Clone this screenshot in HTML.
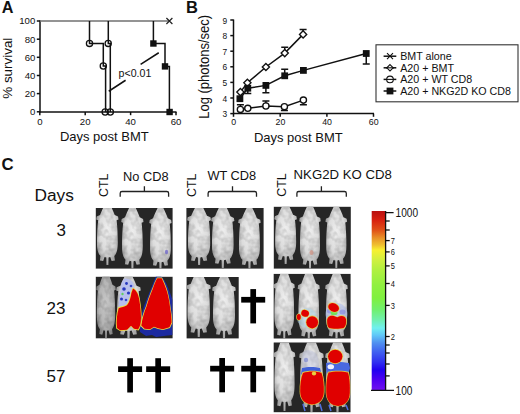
<!DOCTYPE html><html><head><meta charset="utf-8"><style>html,body{margin:0;padding:0;background:#fff;width:520px;height:414px;overflow:hidden}svg{display:block}text{font-family:"Liberation Sans",sans-serif;fill:#111}</style></head><body>
<svg width="520" height="414" viewBox="0 0 520 414">
<defs>
<radialGradient id="mg" cx="50%" cy="40%" r="65%"><stop offset="0" stop-color="#eeeeee"/><stop offset="0.55" stop-color="#dcdcdc"/><stop offset="1" stop-color="#a0a0a0"/></radialGradient>
<linearGradient id="cb" x1="0" y1="0" x2="0" y2="1"><stop offset="0" stop-color="#b81010"/><stop offset="0.05" stop-color="#d82010"/><stop offset="0.106" stop-color="#e05018"/><stop offset="0.15" stop-color="#e89028"/><stop offset="0.19" stop-color="#f0c030"/><stop offset="0.218" stop-color="#f8f030"/><stop offset="0.274" stop-color="#d0f040"/><stop offset="0.33" stop-color="#b0f040"/><stop offset="0.413" stop-color="#90f040"/><stop offset="0.486" stop-color="#80f040"/><stop offset="0.553" stop-color="#70f070"/><stop offset="0.609" stop-color="#70f0b0"/><stop offset="0.654" stop-color="#70f0f0"/><stop offset="0.693" stop-color="#60c8f8"/><stop offset="0.737" stop-color="#5090f0"/><stop offset="0.788" stop-color="#4060f0"/><stop offset="0.844" stop-color="#3030f0"/><stop offset="0.888" stop-color="#2000f0"/><stop offset="0.944" stop-color="#5000f0"/><stop offset="1" stop-color="#7010f0"/></linearGradient>
<radialGradient id="mgd" cx="50%" cy="45%" r="60%"><stop offset="0" stop-color="#c8c8c8"/><stop offset="0.6" stop-color="#b4b4b4"/><stop offset="1" stop-color="#808080"/></radialGradient>
<filter id="soft" x="-5%" y="-5%" width="110%" height="110%"><feGaussianBlur stdDeviation="0.5"/></filter>
<filter id="tex" x="0" y="0" width="100%" height="100%" filterUnits="userSpaceOnUse"><feTurbulence type="fractalNoise" baseFrequency="0.16" numOctaves="2" seed="7" result="n"/><feColorMatrix in="n" type="matrix" values="0 0 0 0 0  0 0 0 0 0  0 0 0 0 0  1.6 0 0 0 -0.62" result="d"/><feComposite in="d" in2="SourceAlpha" operator="in"/></filter>

</defs>
<text x="1.8" y="13.1" font-size="16.2" text-anchor="start" font-weight="bold" >A</text>
<g stroke="#111" stroke-width="1.5" fill="none">
<path d="M40,20.5 V112.5"/>
<path d="M36.8,111.8 H40"/>
<path d="M36.8,93.6 H40"/>
<path d="M36.8,75.5 H40"/>
<path d="M36.8,57.3 H40"/>
<path d="M36.8,39.2 H40"/>
<path d="M36.8,21.0 H40"/>
<path d="M39.3,112 H176.5"/>
<path d="M39.8,112 V115.2"/>
<path d="M85.2,112 V115.2"/>
<path d="M130.6,112 V115.2"/>
<path d="M176,112 V115.2"/>
</g>
<text x="35.3" y="115.2" font-size="9.6" text-anchor="end" font-weight="normal" >0</text>
<text x="35.3" y="97.04" font-size="9.6" text-anchor="end" font-weight="normal" >20</text>
<text x="35.3" y="78.88" font-size="9.6" text-anchor="end" font-weight="normal" >40</text>
<text x="35.3" y="60.71999999999999" font-size="9.6" text-anchor="end" font-weight="normal" >60</text>
<text x="35.3" y="42.559999999999995" font-size="9.6" text-anchor="end" font-weight="normal" >80</text>
<text x="35.3" y="24.4" font-size="9.6" text-anchor="end" font-weight="normal" >100</text>
<text x="39.8" y="124.5" font-size="9.6" text-anchor="middle" font-weight="normal" >0</text>
<text x="85.2" y="124.5" font-size="9.6" text-anchor="middle" font-weight="normal" >20</text>
<text x="130.6" y="124.5" font-size="9.6" text-anchor="middle" font-weight="normal" >40</text>
<text x="176" y="124.5" font-size="9.6" text-anchor="middle" font-weight="normal" >60</text>
<text x="59.9" y="140.6" font-size="13" text-anchor="start" font-weight="normal" >Days post BMT</text>
<text x="0" y="0" font-size="13.4" transform="translate(11.7,98.7) rotate(-90)">% survival</text>
<path d="M40,21 H169.4" stroke="#707070" stroke-width="1.7" fill="none"/>
<path d="M166.4,18 L172.4,24 M172.4,18 L166.4,24" stroke="#222" stroke-width="1.2"/>
<g stroke="#111" stroke-width="1.5" fill="none">
<path d="M89.5,21 V43.4 H103.3 V66 H105.6 V112"/>
<path d="M108.3,21 V43.4 H110.3 V112"/>
<path d="M153.4,21 V43.5 H165 V66.4 H169.4 V112"/>
<path d="M108.75,91.25 L125.6,80.25 M140.6,64.4 L158.75,52.75"/>
</g>
<g stroke="#111" stroke-width="1.3" fill="#fff">
<circle cx="89.5" cy="43.4" r="3.1" fill="none"/>
<circle cx="108.2" cy="43.4" r="3.1" fill="none"/>
<circle cx="103.3" cy="66" r="3.1" fill="none"/>
<circle cx="105.2" cy="112" r="3.1" fill="none"/>
<circle cx="110.3" cy="112" r="3.1" fill="none"/>
</g>
<rect x="150.20000000000002" y="40.3" width="6.4" height="6.4" fill="#111"/>
<rect x="161.8" y="63.2" width="6.4" height="6.4" fill="#111"/>
<rect x="166.4" y="108.8" width="6.4" height="6.4" fill="#111"/>
<text x="118.6" y="77.0" font-size="10.6" text-anchor="start" font-weight="normal" >p&lt;0.01</text>
<text x="185.9" y="13.2" font-size="16.5" text-anchor="start" font-weight="bold" >B</text>
<text x="0" y="0" font-size="13" transform="translate(209.2,118.8) rotate(-90) scale(1,1.06)">Log (photons/sec)</text>
<g stroke="#111" stroke-width="1.5" fill="none">
<path d="M233.5,19.5 V114"/>
<path d="M230.3,113.6 H233.5"/>
<path d="M230.3,98.0 H233.5"/>
<path d="M230.3,82.4 H233.5"/>
<path d="M230.3,66.8 H233.5"/>
<path d="M230.3,51.2 H233.5"/>
<path d="M230.3,35.6 H233.5"/>
<path d="M230.3,20.0 H233.5"/>
<path d="M233,113.6 H374"/>
<path d="M233.5,113.6 V116.8"/>
<path d="M280.2,113.6 V116.8"/>
<path d="M326.9,113.6 V116.8"/>
<path d="M373.5,113.6 V116.8"/>
</g>
<text x="227.2" y="117.19999999999999" font-size="8.4" text-anchor="end" font-weight="normal" >3</text>
<text x="227.2" y="101.6" font-size="8.4" text-anchor="end" font-weight="normal" >4</text>
<text x="227.2" y="85.99999999999999" font-size="8.4" text-anchor="end" font-weight="normal" >5</text>
<text x="227.2" y="70.39999999999999" font-size="8.4" text-anchor="end" font-weight="normal" >6</text>
<text x="227.2" y="54.8" font-size="8.4" text-anchor="end" font-weight="normal" >7</text>
<text x="227.2" y="39.199999999999996" font-size="8.4" text-anchor="end" font-weight="normal" >8</text>
<text x="227.2" y="23.6" font-size="8.4" text-anchor="end" font-weight="normal" >9</text>
<text x="233.7" y="124.8" font-size="8.8" text-anchor="middle" font-weight="normal" >0</text>
<text x="280.4" y="124.8" font-size="8.8" text-anchor="middle" font-weight="normal" >20</text>
<text x="327.09999999999997" y="124.8" font-size="8.8" text-anchor="middle" font-weight="normal" >40</text>
<text x="373.7" y="124.8" font-size="8.8" text-anchor="middle" font-weight="normal" >60</text>
<text x="253.9" y="142.3" font-size="13" text-anchor="start" font-weight="normal" >Days post BMT</text>
<g stroke="#111" stroke-width="1.5" fill="none">
<polyline points="240.4,92.1 247.4,82.8 265.9,67 284.75,53.1 303.1,34.4"/>
<polyline points="239.9,98.7 247.8,88.2 265.9,85.4 284.7,75.8 303.4,70.4 366.25,53.5"/>
<polyline points="240.4,109.4 247.8,108.3 265.9,106 284.4,106.7 303.4,100.1"/>
<path d="M284.75,53.1 V47.25 M281.25,47.25 H288.25"/>
<path d="M303.1,34.4 V29.4 M299.6,29.4 H306.6"/>
<path d="M247.8,88.2 V93.6 M244.3,93.6 H251.3"/>
<path d="M265.9,85.4 V92.8 M262.4,92.8 H269.4"/>
<path d="M284.7,75.8 V69.2 M281.2,69.2 H288.2"/>
<path d="M366.25,53.5 V64 M362.75,64 H369.75"/>
<path d="M240.4,109.4 V104.7 M236.9,104.7 H243.9"/>
<path d="M265.9,106 V100.9 M262.4,100.9 H269.4"/>
<path d="M284.4,106.7 V110.6 M280.9,110.6 H287.9"/>
<path d="M303.4,100.1 V104.7 M299.9,104.7 H306.9"/>
</g>
<path d="M240.4,88.5 L244.0,92.1 L240.4,95.69999999999999 L236.8,92.1 Z" fill="#fff" stroke="#111" stroke-width="1.35"/>
<path d="M247.4,79.2 L251.0,82.8 L247.4,86.39999999999999 L243.8,82.8 Z" fill="#fff" stroke="#111" stroke-width="1.35"/>
<path d="M265.9,63.4 L269.5,67 L265.9,70.6 L262.29999999999995,67 Z" fill="#fff" stroke="#111" stroke-width="1.35"/>
<path d="M284.75,49.5 L288.35,53.1 L284.75,56.7 L281.15,53.1 Z" fill="#fff" stroke="#111" stroke-width="1.35"/>
<path d="M303.1,30.799999999999997 L306.70000000000005,34.4 L303.1,38.0 L299.5,34.4 Z" fill="#fff" stroke="#111" stroke-width="1.35"/>
<circle cx="240.4" cy="109.4" r="3.1" fill="#fff" stroke="#111" stroke-width="1.35"/>
<circle cx="247.8" cy="108.3" r="3.1" fill="#fff" stroke="#111" stroke-width="1.35"/>
<circle cx="265.9" cy="106" r="3.1" fill="#fff" stroke="#111" stroke-width="1.35"/>
<circle cx="284.4" cy="106.7" r="3.1" fill="#fff" stroke="#111" stroke-width="1.35"/>
<circle cx="303.4" cy="100.1" r="3.1" fill="#fff" stroke="#111" stroke-width="1.35"/>
<rect x="236.5" y="95.3" width="6.8" height="6.8" fill="#111"/>
<rect x="244.4" y="84.8" width="6.8" height="6.8" fill="#111"/>
<rect x="262.5" y="82.0" width="6.8" height="6.8" fill="#111"/>
<rect x="281.3" y="72.39999999999999" width="6.8" height="6.8" fill="#111"/>
<rect x="300.0" y="67.0" width="6.8" height="6.8" fill="#111"/>
<rect x="362.85" y="50.1" width="6.8" height="6.8" fill="#111"/>
<rect x="376" y="44.8" width="142" height="57" fill="#fff" stroke="#333" stroke-width="1.1"/>
<g stroke="#111" stroke-width="1.5" fill="none">
<path d="M383.6,56.2 H396.3"/>
<path d="M383.6,67.8 H396.3"/>
<path d="M383.6,79.4 H396.3"/>
<path d="M383.6,91.0 H396.3"/>
</g>
<path d="M387,53.2 L393,59.2 M393,53.2 L387,59.2" stroke="#111" stroke-width="1.1"/>
<path d="M390,64.6 L393.2,67.8 L390,71.0 L386.8,67.8 Z" fill="#fff" stroke="#111" stroke-width="1.1"/><path d="M386,67.8 H394" stroke="#111" stroke-width="1.1"/>
<circle cx="390" cy="79.4" r="3.3" fill="#fff" stroke="#111" stroke-width="1.1"/><path d="M386,79.4 H394" stroke="#111" stroke-width="1.1"/>
<rect x="386.6" y="87.6" width="6.8" height="6.8" fill="#111"/>
<text x="400.2" y="60.0" font-size="10.7" text-anchor="start" font-weight="normal" >BMT alone</text>
<text x="400.2" y="71.6" font-size="10.7" text-anchor="start" font-weight="normal" >A20 + BMT</text>
<text x="400.2" y="83.2" font-size="10.7" text-anchor="start" font-weight="normal" >A20 + WT CD8</text>
<text x="400.2" y="94.8" font-size="10.7" text-anchor="start" font-weight="normal" >A20 + NKG2D KO CD8</text>
<text x="1.5" y="170.4" font-size="16.8" text-anchor="start" font-weight="bold" >C</text>
<text x="34.5" y="200.6" font-size="17.3" text-anchor="start" font-weight="normal" >Days</text>
<text x="66" y="236.4" font-size="17" text-anchor="end" font-weight="normal" >3</text>
<text x="65.4" y="314" font-size="17" text-anchor="end" font-weight="normal" >23</text>
<text x="65.4" y="382.2" font-size="17" text-anchor="end" font-weight="normal" >57</text>
<text x="0" y="0" font-size="12.4" transform="translate(108.4,196.9) rotate(-90)">CTL</text>
<text x="0" y="0" font-size="12.4" transform="translate(196.4,196.9) rotate(-90)">CTL</text>
<text x="0" y="0" font-size="12.4" transform="translate(286.3,196.7) rotate(-90)">CTL</text>
<text x="123.1" y="180.5" font-size="12.8" text-anchor="start" font-weight="normal" >No CD8</text>
<text x="207.4" y="180.3" font-size="12.8" text-anchor="start" font-weight="normal" >WT CD8</text>
<text x="293.6" y="179.1" font-size="13.2" text-anchor="start" font-weight="normal" >NKG2D KO CD8</text>
<g stroke="#222" stroke-width="1.3" fill="none">
<path d="M120.2,196.7 V193.3 Q120.2,191.5 122.0,191.5 H166.79999999999998 Q168.6,191.5 168.6,193.3 V196.7 M144.4,191.5 V186.3"/>
<path d="M208.1,196.7 V193.3 Q208.1,191.5 209.9,191.5 H254.7 Q256.5,191.5 256.5,193.3 V196.7 M232.5,191.5 V186.3"/>
<path d="M296.9,196.7 V193.3 Q296.9,191.5 298.7,191.5 H344.5 Q346.3,191.5 346.3,193.3 V196.7 M321.4,191.5 V186.3"/>
</g>
<g filter="url(#soft)">
<rect x="95.8" y="208" width="76.8" height="60.60000000000002" fill="#262626"/>
<clipPath id="c95208"><rect x="95.8" y="208" width="76.8" height="60.60000000000002"/></clipPath>
<g clip-path="url(#c95208)">
<path d="M9,0 L15,0 C16.8,3 18.3,6.5 19.8,10 L23.3,11.5 L23.8,14.5 L21.8,15.2 C22.6,22 23,29.5 23,37.5 C23,44 22.1,48.5 19.3,51 L20,55.5 L16.5,56 L15,52 L13.2,52.5 L13,60 L11,60 L10.8,52.5 L9,52 L7.5,56 L4,55.5 L4.7,51 C1.9,48.5 1,44 1,37.5 C1,29.5 1.4,22 2.2,15.2 L0.2,14.5 L0.7,11.5 L4.2,10 C5.7,6.5 7.2,3 9,0 Z" transform="translate(96.1,205) scale(0.942,1.000)" fill="url(#mg)"/>
<path d="M9,0 L15,0 C16.8,3 18.3,6.5 19.8,10 L23.3,11.5 L23.8,14.5 L21.8,15.2 C22.6,22 23,29.5 23,37.5 C23,44 22.1,48.5 19.3,51 L20,55.5 L16.5,56 L15,52 L13.2,52.5 L13,60 L11,60 L10.8,52.5 L9,52 L7.5,56 L4,55.5 L4.7,51 C1.9,48.5 1,44 1,37.5 C1,29.5 1.4,22 2.2,15.2 L0.2,14.5 L0.7,11.5 L4.2,10 C5.7,6.5 7.2,3 9,0 Z" transform="translate(96.1,205) scale(0.942,1.000)" fill="#000" filter="url(#tex)" opacity="0.28"/>
<path d="M9,0 L15,0 C16.8,3 18.3,6.5 19.8,10 L23.3,11.5 L23.8,14.5 L21.8,15.2 C22.6,22 23,29.5 23,37.5 C23,44 22.1,48.5 19.3,51 L20,55.5 L16.5,56 L15,52 L13.2,52.5 L13,60 L11,60 L10.8,52.5 L9,52 L7.5,56 L4,55.5 L4.7,51 C1.9,48.5 1,44 1,37.5 C1,29.5 1.4,22 2.2,15.2 L0.2,14.5 L0.7,11.5 L4.2,10 C5.7,6.5 7.2,3 9,0 Z" transform="translate(121.1,207) scale(0.942,1.033)" fill="url(#mg)"/>
<path d="M9,0 L15,0 C16.8,3 18.3,6.5 19.8,10 L23.3,11.5 L23.8,14.5 L21.8,15.2 C22.6,22 23,29.5 23,37.5 C23,44 22.1,48.5 19.3,51 L20,55.5 L16.5,56 L15,52 L13.2,52.5 L13,60 L11,60 L10.8,52.5 L9,52 L7.5,56 L4,55.5 L4.7,51 C1.9,48.5 1,44 1,37.5 C1,29.5 1.4,22 2.2,15.2 L0.2,14.5 L0.7,11.5 L4.2,10 C5.7,6.5 7.2,3 9,0 Z" transform="translate(121.1,207) scale(0.942,1.033)" fill="#000" filter="url(#tex)" opacity="0.28"/>
<path d="M9,0 L15,0 C16.8,3 18.3,6.5 19.8,10 L23.3,11.5 L23.8,14.5 L21.8,15.2 C22.6,22 23,29.5 23,37.5 C23,44 22.1,48.5 19.3,51 L20,55.5 L16.5,56 L15,52 L13.2,52.5 L13,60 L11,60 L10.8,52.5 L9,52 L7.5,56 L4,55.5 L4.7,51 C1.9,48.5 1,44 1,37.5 C1,29.5 1.4,22 2.2,15.2 L0.2,14.5 L0.7,11.5 L4.2,10 C5.7,6.5 7.2,3 9,0 Z" transform="translate(149.1,208) scale(0.946,1.033)" fill="url(#mg)"/>
<path d="M9,0 L15,0 C16.8,3 18.3,6.5 19.8,10 L23.3,11.5 L23.8,14.5 L21.8,15.2 C22.6,22 23,29.5 23,37.5 C23,44 22.1,48.5 19.3,51 L20,55.5 L16.5,56 L15,52 L13.2,52.5 L13,60 L11,60 L10.8,52.5 L9,52 L7.5,56 L4,55.5 L4.7,51 C1.9,48.5 1,44 1,37.5 C1,29.5 1.4,22 2.2,15.2 L0.2,14.5 L0.7,11.5 L4.2,10 C5.7,6.5 7.2,3 9,0 Z" transform="translate(149.1,208) scale(0.946,1.033)" fill="#000" filter="url(#tex)" opacity="0.28"/>
<ellipse cx="166.5" cy="252" rx="1.6" ry="2.2" fill="#7068c8" opacity="0.8"/>
</g></g>
<g filter="url(#soft)">
<rect x="186.4" y="208" width="77.20000000000002" height="60.60000000000002" fill="#262626"/>
<clipPath id="c186208"><rect x="186.4" y="208" width="77.20000000000002" height="60.60000000000002"/></clipPath>
<g clip-path="url(#c186208)">
<path d="M9,0 L15,0 C16.8,3 18.3,6.5 19.8,10 L23.3,11.5 L23.8,14.5 L21.8,15.2 C22.6,22 23,29.5 23,37.5 C23,44 22.1,48.5 19.3,51 L20,55.5 L16.5,56 L15,52 L13.2,52.5 L13,60 L11,60 L10.8,52.5 L9,52 L7.5,56 L4,55.5 L4.7,51 C1.9,48.5 1,44 1,37.5 C1,29.5 1.4,22 2.2,15.2 L0.2,14.5 L0.7,11.5 L4.2,10 C5.7,6.5 7.2,3 9,0 Z" transform="translate(187,206) scale(1.008,0.983)" fill="url(#mg)"/>
<path d="M9,0 L15,0 C16.8,3 18.3,6.5 19.8,10 L23.3,11.5 L23.8,14.5 L21.8,15.2 C22.6,22 23,29.5 23,37.5 C23,44 22.1,48.5 19.3,51 L20,55.5 L16.5,56 L15,52 L13.2,52.5 L13,60 L11,60 L10.8,52.5 L9,52 L7.5,56 L4,55.5 L4.7,51 C1.9,48.5 1,44 1,37.5 C1,29.5 1.4,22 2.2,15.2 L0.2,14.5 L0.7,11.5 L4.2,10 C5.7,6.5 7.2,3 9,0 Z" transform="translate(187,206) scale(1.008,0.983)" fill="#000" filter="url(#tex)" opacity="0.28"/>
<path d="M9,0 L15,0 C16.8,3 18.3,6.5 19.8,10 L23.3,11.5 L23.8,14.5 L21.8,15.2 C22.6,22 23,29.5 23,37.5 C23,44 22.1,48.5 19.3,51 L20,55.5 L16.5,56 L15,52 L13.2,52.5 L13,60 L11,60 L10.8,52.5 L9,52 L7.5,56 L4,55.5 L4.7,51 C1.9,48.5 1,44 1,37.5 C1,29.5 1.4,22 2.2,15.2 L0.2,14.5 L0.7,11.5 L4.2,10 C5.7,6.5 7.2,3 9,0 Z" transform="translate(211,206) scale(0.983,1.033)" fill="url(#mg)"/>
<path d="M9,0 L15,0 C16.8,3 18.3,6.5 19.8,10 L23.3,11.5 L23.8,14.5 L21.8,15.2 C22.6,22 23,29.5 23,37.5 C23,44 22.1,48.5 19.3,51 L20,55.5 L16.5,56 L15,52 L13.2,52.5 L13,60 L11,60 L10.8,52.5 L9,52 L7.5,56 L4,55.5 L4.7,51 C1.9,48.5 1,44 1,37.5 C1,29.5 1.4,22 2.2,15.2 L0.2,14.5 L0.7,11.5 L4.2,10 C5.7,6.5 7.2,3 9,0 Z" transform="translate(211,206) scale(0.983,1.033)" fill="#000" filter="url(#tex)" opacity="0.28"/>
<path d="M9,0 L15,0 C16.8,3 18.3,6.5 19.8,10 L23.3,11.5 L23.8,14.5 L21.8,15.2 C22.6,22 23,29.5 23,37.5 C23,44 22.1,48.5 19.3,51 L20,55.5 L16.5,56 L15,52 L13.2,52.5 L13,60 L11,60 L10.8,52.5 L9,52 L7.5,56 L4,55.5 L4.7,51 C1.9,48.5 1,44 1,37.5 C1,29.5 1.4,22 2.2,15.2 L0.2,14.5 L0.7,11.5 L4.2,10 C5.7,6.5 7.2,3 9,0 Z" transform="translate(238,208) scale(0.954,1.017)" fill="url(#mg)"/>
<path d="M9,0 L15,0 C16.8,3 18.3,6.5 19.8,10 L23.3,11.5 L23.8,14.5 L21.8,15.2 C22.6,22 23,29.5 23,37.5 C23,44 22.1,48.5 19.3,51 L20,55.5 L16.5,56 L15,52 L13.2,52.5 L13,60 L11,60 L10.8,52.5 L9,52 L7.5,56 L4,55.5 L4.7,51 C1.9,48.5 1,44 1,37.5 C1,29.5 1.4,22 2.2,15.2 L0.2,14.5 L0.7,11.5 L4.2,10 C5.7,6.5 7.2,3 9,0 Z" transform="translate(238,208) scale(0.954,1.017)" fill="#000" filter="url(#tex)" opacity="0.28"/>

</g></g>
<g filter="url(#soft)">
<rect x="273.8" y="206.8" width="77.0" height="61.80000000000001" fill="#262626"/>
<clipPath id="c273206"><rect x="273.8" y="206.8" width="77.0" height="61.80000000000001"/></clipPath>
<g clip-path="url(#c273206)">
<path d="M9,0 L15,0 C16.8,3 18.3,6.5 19.8,10 L23.3,11.5 L23.8,14.5 L21.8,15.2 C22.6,22 23,29.5 23,37.5 C23,44 22.1,48.5 19.3,51 L20,55.5 L16.5,56 L15,52 L13.2,52.5 L13,60 L11,60 L10.8,52.5 L9,52 L7.5,56 L4,55.5 L4.7,51 C1.9,48.5 1,44 1,37.5 C1,29.5 1.4,22 2.2,15.2 L0.2,14.5 L0.7,11.5 L4.2,10 C5.7,6.5 7.2,3 9,0 Z" transform="translate(274.2,205) scale(0.954,0.983)" fill="url(#mg)"/>
<path d="M9,0 L15,0 C16.8,3 18.3,6.5 19.8,10 L23.3,11.5 L23.8,14.5 L21.8,15.2 C22.6,22 23,29.5 23,37.5 C23,44 22.1,48.5 19.3,51 L20,55.5 L16.5,56 L15,52 L13.2,52.5 L13,60 L11,60 L10.8,52.5 L9,52 L7.5,56 L4,55.5 L4.7,51 C1.9,48.5 1,44 1,37.5 C1,29.5 1.4,22 2.2,15.2 L0.2,14.5 L0.7,11.5 L4.2,10 C5.7,6.5 7.2,3 9,0 Z" transform="translate(274.2,205) scale(0.954,0.983)" fill="#000" filter="url(#tex)" opacity="0.28"/>
<path d="M9,0 L15,0 C16.8,3 18.3,6.5 19.8,10 L23.3,11.5 L23.8,14.5 L21.8,15.2 C22.6,22 23,29.5 23,37.5 C23,44 22.1,48.5 19.3,51 L20,55.5 L16.5,56 L15,52 L13.2,52.5 L13,60 L11,60 L10.8,52.5 L9,52 L7.5,56 L4,55.5 L4.7,51 C1.9,48.5 1,44 1,37.5 C1,29.5 1.4,22 2.2,15.2 L0.2,14.5 L0.7,11.5 L4.2,10 C5.7,6.5 7.2,3 9,0 Z" transform="translate(299.1,206) scale(0.908,1.050)" fill="url(#mg)"/>
<path d="M9,0 L15,0 C16.8,3 18.3,6.5 19.8,10 L23.3,11.5 L23.8,14.5 L21.8,15.2 C22.6,22 23,29.5 23,37.5 C23,44 22.1,48.5 19.3,51 L20,55.5 L16.5,56 L15,52 L13.2,52.5 L13,60 L11,60 L10.8,52.5 L9,52 L7.5,56 L4,55.5 L4.7,51 C1.9,48.5 1,44 1,37.5 C1,29.5 1.4,22 2.2,15.2 L0.2,14.5 L0.7,11.5 L4.2,10 C5.7,6.5 7.2,3 9,0 Z" transform="translate(299.1,206) scale(0.908,1.050)" fill="#000" filter="url(#tex)" opacity="0.28"/>
<path d="M9,0 L15,0 C16.8,3 18.3,6.5 19.8,10 L23.3,11.5 L23.8,14.5 L21.8,15.2 C22.6,22 23,29.5 23,37.5 C23,44 22.1,48.5 19.3,51 L20,55.5 L16.5,56 L15,52 L13.2,52.5 L13,60 L11,60 L10.8,52.5 L9,52 L7.5,56 L4,55.5 L4.7,51 C1.9,48.5 1,44 1,37.5 C1,29.5 1.4,22 2.2,15.2 L0.2,14.5 L0.7,11.5 L4.2,10 C5.7,6.5 7.2,3 9,0 Z" transform="translate(325.3,207) scale(0.917,1.017)" fill="url(#mg)"/>
<path d="M9,0 L15,0 C16.8,3 18.3,6.5 19.8,10 L23.3,11.5 L23.8,14.5 L21.8,15.2 C22.6,22 23,29.5 23,37.5 C23,44 22.1,48.5 19.3,51 L20,55.5 L16.5,56 L15,52 L13.2,52.5 L13,60 L11,60 L10.8,52.5 L9,52 L7.5,56 L4,55.5 L4.7,51 C1.9,48.5 1,44 1,37.5 C1,29.5 1.4,22 2.2,15.2 L0.2,14.5 L0.7,11.5 L4.2,10 C5.7,6.5 7.2,3 9,0 Z" transform="translate(325.3,207) scale(0.917,1.017)" fill="#000" filter="url(#tex)" opacity="0.28"/>
<ellipse cx="311.5" cy="252.5" rx="2" ry="2.5" fill="#d09080" opacity="0.7"/>
</g></g>
<g filter="url(#soft)">
<rect x="95.8" y="276.8" width="76.8" height="61.5" fill="#262626"/>
<clipPath id="c95276"><rect x="95.8" y="276.8" width="76.8" height="61.5"/></clipPath>
<g clip-path="url(#c95276)">
<path d="M9,0 L15,0 C16.8,3 18.3,6.5 19.8,10 L23.3,11.5 L23.8,14.5 L21.8,15.2 C22.6,22 23,29.5 23,37.5 C23,44 22.1,48.5 19.3,51 L20,55.5 L16.5,56 L15,52 L13.2,52.5 L13,60 L11,60 L10.8,52.5 L9,52 L7.5,56 L4,55.5 L4.7,51 C1.9,48.5 1,44 1,37.5 C1,29.5 1.4,22 2.2,15.2 L0.2,14.5 L0.7,11.5 L4.2,10 C5.7,6.5 7.2,3 9,0 Z" transform="translate(96,274) scale(0.833,1.083)" fill="url(#mgd)"/>
<path d="M9,0 L15,0 C16.8,3 18.3,6.5 19.8,10 L23.3,11.5 L23.8,14.5 L21.8,15.2 C22.6,22 23,29.5 23,37.5 C23,44 22.1,48.5 19.3,51 L20,55.5 L16.5,56 L15,52 L13.2,52.5 L13,60 L11,60 L10.8,52.5 L9,52 L7.5,56 L4,55.5 L4.7,51 C1.9,48.5 1,44 1,37.5 C1,29.5 1.4,22 2.2,15.2 L0.2,14.5 L0.7,11.5 L4.2,10 C5.7,6.5 7.2,3 9,0 Z" transform="translate(96,274) scale(0.833,1.083)" fill="#000" filter="url(#tex)" opacity="0.28"/>
<path d="M9,0 L15,0 C16.8,3 18.3,6.5 19.8,10 L23.3,11.5 L23.8,14.5 L21.8,15.2 C22.6,22 23,29.5 23,37.5 C23,44 22.1,48.5 19.3,51 L20,55.5 L16.5,56 L15,52 L13.2,52.5 L13,60 L11,60 L10.8,52.5 L9,52 L7.5,56 L4,55.5 L4.7,51 C1.9,48.5 1,44 1,37.5 C1,29.5 1.4,22 2.2,15.2 L0.2,14.5 L0.7,11.5 L4.2,10 C5.7,6.5 7.2,3 9,0 Z" transform="translate(116,275) scale(1.042,1.067)" fill="url(#mg)"/>
<path d="M9,0 L15,0 C16.8,3 18.3,6.5 19.8,10 L23.3,11.5 L23.8,14.5 L21.8,15.2 C22.6,22 23,29.5 23,37.5 C23,44 22.1,48.5 19.3,51 L20,55.5 L16.5,56 L15,52 L13.2,52.5 L13,60 L11,60 L10.8,52.5 L9,52 L7.5,56 L4,55.5 L4.7,51 C1.9,48.5 1,44 1,37.5 C1,29.5 1.4,22 2.2,15.2 L0.2,14.5 L0.7,11.5 L4.2,10 C5.7,6.5 7.2,3 9,0 Z" transform="translate(116,275) scale(1.042,1.067)" fill="#000" filter="url(#tex)" opacity="0.28"/>

<path d="M156,276 C154,281 152,286 150,291 C148,296 146,301 144,306 C142,313 140,319 139,324 L140,332 L146,336 L152,335 L156,337 L164,336 L172.6,335 L172.6,300 C171,295 169,290 167,285 C165,281 163,278 161,276 Z" fill="#1a2aa0"/>
<path d="M157,277.5 L162,277.5 C164,281 166,286 167.5,291 C169,297 170,302 170.5,307 C171.5,313 172.3,318 172.3,323 L170,328 L163,330 L158,329 L154,327.5 L150,330 L144,329.5 L140.5,326 C141,320 143,313 146,306 C148,299 150,294 152,289 C154,284 155.5,280 157,277.5 Z" fill="#f0e040"/>
<path d="M157.3,278.3 L161.7,278.3 C163.5,282 165.5,287 167,291.5 C168.5,297 169.5,302 170,307 C171,313 171.6,318 171.6,322.5 L169.5,327.3 L163,329.2 L158,328.3 L154,326.8 L150,329.3 L144.5,328.8 L141.3,325.6 C142,320 143.8,313 146.6,306.2 C148.6,299.2 150.6,294.2 152.6,289.2 C154.4,284.2 156,280.3 157.3,278.3 Z" fill="#e00000"/>
<path d="M125,278.5 C129,278 133,281 134,285 C134,290 132,296 130,301 C128,305 125,307 121,308 L118.5,307 C119,300 120,292 121,285 C122,281 123.5,279 125,278.5 Z" fill="#b8c0ec"/>
<circle cx="124" cy="289" r="1.8" fill="#2838c0"/><circle cx="128.5" cy="293" r="1.6" fill="#2838c0"/><circle cx="126.5" cy="283.5" r="1.4" fill="#2838c0"/><circle cx="121.5" cy="299" r="1.5" fill="#2838c0"/><circle cx="126" cy="300" r="1.3" fill="#3848c8"/><circle cx="131" cy="286" r="1.3" fill="#3848c8"/><circle cx="122.5" cy="294" r="1.2" fill="#60d060"/>
<path d="M132.6,287.5 C136,289 139,293 140,300 C141,306 141.7,312 141.7,318 C141.7,324 140.5,328 138.5,330.5 L134,329.5 L131,326.5 L127,330.5 L120,331 L116.2,328.5 C115.4,322 116,314 118,307.5 C121,305.8 124,306.5 126.5,304.5 C129,301.5 130,297 130.8,292.5 Z" fill="#f0e040"/>
<path d="M133,288.5 C136,290 138.5,294 139.3,300 C140.3,306 141,312 141,318 C141,323.5 139.9,327.3 138,329.6 L134,328.7 L131,325.7 L127,329.7 L120,330.2 L117,328 C116.2,322 116.8,314 118.7,308.2 C121.5,306.6 124.4,307.2 127,305.2 C129.6,302.2 130.6,297.6 131.4,293 Z" fill="#e00000"/>

</g></g>
<g filter="url(#soft)">
<rect x="186.6" y="277" width="52.099999999999994" height="61.39999999999998" fill="#262626"/>
<clipPath id="c186277"><rect x="186.6" y="277" width="52.099999999999994" height="61.39999999999998"/></clipPath>
<g clip-path="url(#c186277)">
<path d="M9,0 L15,0 C16.8,3 18.3,6.5 19.8,10 L23.3,11.5 L23.8,14.5 L21.8,15.2 C22.6,22 23,29.5 23,37.5 C23,44 22.1,48.5 19.3,51 L20,55.5 L16.5,56 L15,52 L13.2,52.5 L13,60 L11,60 L10.8,52.5 L9,52 L7.5,56 L4,55.5 L4.7,51 C1.9,48.5 1,44 1,37.5 C1,29.5 1.4,22 2.2,15.2 L0.2,14.5 L0.7,11.5 L4.2,10 C5.7,6.5 7.2,3 9,0 Z" transform="translate(186.5,273) scale(1.021,1.067)" fill="url(#mg)"/>
<path d="M9,0 L15,0 C16.8,3 18.3,6.5 19.8,10 L23.3,11.5 L23.8,14.5 L21.8,15.2 C22.6,22 23,29.5 23,37.5 C23,44 22.1,48.5 19.3,51 L20,55.5 L16.5,56 L15,52 L13.2,52.5 L13,60 L11,60 L10.8,52.5 L9,52 L7.5,56 L4,55.5 L4.7,51 C1.9,48.5 1,44 1,37.5 C1,29.5 1.4,22 2.2,15.2 L0.2,14.5 L0.7,11.5 L4.2,10 C5.7,6.5 7.2,3 9,0 Z" transform="translate(186.5,273) scale(1.021,1.067)" fill="#000" filter="url(#tex)" opacity="0.28"/>
<path d="M9,0 L15,0 C16.8,3 18.3,6.5 19.8,10 L23.3,11.5 L23.8,14.5 L21.8,15.2 C22.6,22 23,29.5 23,37.5 C23,44 22.1,48.5 19.3,51 L20,55.5 L16.5,56 L15,52 L13.2,52.5 L13,60 L11,60 L10.8,52.5 L9,52 L7.5,56 L4,55.5 L4.7,51 C1.9,48.5 1,44 1,37.5 C1,29.5 1.4,22 2.2,15.2 L0.2,14.5 L0.7,11.5 L4.2,10 C5.7,6.5 7.2,3 9,0 Z" transform="translate(212,275) scale(1.000,1.067)" fill="url(#mg)"/>
<path d="M9,0 L15,0 C16.8,3 18.3,6.5 19.8,10 L23.3,11.5 L23.8,14.5 L21.8,15.2 C22.6,22 23,29.5 23,37.5 C23,44 22.1,48.5 19.3,51 L20,55.5 L16.5,56 L15,52 L13.2,52.5 L13,60 L11,60 L10.8,52.5 L9,52 L7.5,56 L4,55.5 L4.7,51 C1.9,48.5 1,44 1,37.5 C1,29.5 1.4,22 2.2,15.2 L0.2,14.5 L0.7,11.5 L4.2,10 C5.7,6.5 7.2,3 9,0 Z" transform="translate(212,275) scale(1.000,1.067)" fill="#000" filter="url(#tex)" opacity="0.28"/>

</g></g>
<g filter="url(#soft)">
<rect x="273.7" y="273.9" width="76.90000000000003" height="64.60000000000002" fill="#262626"/>
<clipPath id="c273273"><rect x="273.7" y="273.9" width="76.90000000000003" height="64.60000000000002"/></clipPath>
<g clip-path="url(#c273273)">
<path d="M9,0 L15,0 C16.8,3 18.3,6.5 19.8,10 L23.3,11.5 L23.8,14.5 L21.8,15.2 C22.6,22 23,29.5 23,37.5 C23,44 22.1,48.5 19.3,51 L20,55.5 L16.5,56 L15,52 L13.2,52.5 L13,60 L11,60 L10.8,52.5 L9,52 L7.5,56 L4,55.5 L4.7,51 C1.9,48.5 1,44 1,37.5 C1,29.5 1.4,22 2.2,15.2 L0.2,14.5 L0.7,11.5 L4.2,10 C5.7,6.5 7.2,3 9,0 Z" transform="translate(273.5,271) scale(0.896,1.150)" fill="url(#mg)"/>
<path d="M9,0 L15,0 C16.8,3 18.3,6.5 19.8,10 L23.3,11.5 L23.8,14.5 L21.8,15.2 C22.6,22 23,29.5 23,37.5 C23,44 22.1,48.5 19.3,51 L20,55.5 L16.5,56 L15,52 L13.2,52.5 L13,60 L11,60 L10.8,52.5 L9,52 L7.5,56 L4,55.5 L4.7,51 C1.9,48.5 1,44 1,37.5 C1,29.5 1.4,22 2.2,15.2 L0.2,14.5 L0.7,11.5 L4.2,10 C5.7,6.5 7.2,3 9,0 Z" transform="translate(273.5,271) scale(0.896,1.150)" fill="#000" filter="url(#tex)" opacity="0.28"/>
<path d="M9,0 L15,0 C16.8,3 18.3,6.5 19.8,10 L23.3,11.5 L23.8,14.5 L21.8,15.2 C22.6,22 23,29.5 23,37.5 C23,44 22.1,48.5 19.3,51 L20,55.5 L16.5,56 L15,52 L13.2,52.5 L13,60 L11,60 L10.8,52.5 L9,52 L7.5,56 L4,55.5 L4.7,51 C1.9,48.5 1,44 1,37.5 C1,29.5 1.4,22 2.2,15.2 L0.2,14.5 L0.7,11.5 L4.2,10 C5.7,6.5 7.2,3 9,0 Z" transform="translate(297.5,272) scale(0.938,1.150)" fill="url(#mg)"/>
<path d="M9,0 L15,0 C16.8,3 18.3,6.5 19.8,10 L23.3,11.5 L23.8,14.5 L21.8,15.2 C22.6,22 23,29.5 23,37.5 C23,44 22.1,48.5 19.3,51 L20,55.5 L16.5,56 L15,52 L13.2,52.5 L13,60 L11,60 L10.8,52.5 L9,52 L7.5,56 L4,55.5 L4.7,51 C1.9,48.5 1,44 1,37.5 C1,29.5 1.4,22 2.2,15.2 L0.2,14.5 L0.7,11.5 L4.2,10 C5.7,6.5 7.2,3 9,0 Z" transform="translate(297.5,272) scale(0.938,1.150)" fill="#000" filter="url(#tex)" opacity="0.28"/>
<path d="M9,0 L15,0 C16.8,3 18.3,6.5 19.8,10 L23.3,11.5 L23.8,14.5 L21.8,15.2 C22.6,22 23,29.5 23,37.5 C23,44 22.1,48.5 19.3,51 L20,55.5 L16.5,56 L15,52 L13.2,52.5 L13,60 L11,60 L10.8,52.5 L9,52 L7.5,56 L4,55.5 L4.7,51 C1.9,48.5 1,44 1,37.5 C1,29.5 1.4,22 2.2,15.2 L0.2,14.5 L0.7,11.5 L4.2,10 C5.7,6.5 7.2,3 9,0 Z" transform="translate(325,272) scale(0.958,1.150)" fill="url(#mg)"/>
<path d="M9,0 L15,0 C16.8,3 18.3,6.5 19.8,10 L23.3,11.5 L23.8,14.5 L21.8,15.2 C22.6,22 23,29.5 23,37.5 C23,44 22.1,48.5 19.3,51 L20,55.5 L16.5,56 L15,52 L13.2,52.5 L13,60 L11,60 L10.8,52.5 L9,52 L7.5,56 L4,55.5 L4.7,51 C1.9,48.5 1,44 1,37.5 C1,29.5 1.4,22 2.2,15.2 L0.2,14.5 L0.7,11.5 L4.2,10 C5.7,6.5 7.2,3 9,0 Z" transform="translate(325,272) scale(0.958,1.150)" fill="#000" filter="url(#tex)" opacity="0.28"/>

<ellipse cx="307" cy="318" rx="10" ry="10" fill="#a8d8f0" opacity="0.45"/>
<ellipse cx="336.5" cy="314" rx="11" ry="11" fill="#a8b8f0" opacity="0.5"/>
<ellipse cx="329.5" cy="311" rx="2.5" ry="2.5" fill="#8080e0" opacity="0.6"/>
<ellipse cx="342.5" cy="312" rx="3" ry="2.5" fill="#8080e0" opacity="0.6"/>
<ellipse cx="298.8" cy="317" rx="2.6" ry="3.6" fill="#e8d040"/>
<ellipse cx="298.8" cy="317" rx="2" ry="3" fill="#e00000"/>
<ellipse cx="305.1" cy="313.3" rx="4.5" ry="3.9" fill="#e8d040" transform="rotate(20 305.1 313.3)"/>
<ellipse cx="305.1" cy="313.3" rx="3.9" ry="3.3" fill="#e00000" transform="rotate(20 305.1 313.3)"/>
<ellipse cx="312.2" cy="322.3" rx="6.5" ry="6.7" fill="#e8d040"/>
<ellipse cx="312.2" cy="322.3" rx="5.9" ry="6.1" fill="#e00000"/>
<ellipse cx="334" cy="313" rx="3.5" ry="2.2" fill="#70e060"/>
<ellipse cx="333.6" cy="307.5" rx="6.2" ry="4.8" fill="#e8d040" transform="rotate(25 333.6 307.5)"/>
<ellipse cx="333.6" cy="307.5" rx="5.6" ry="4.2" fill="#e00000" transform="rotate(25 333.6 307.5)"/>
<path d="M326.5,321 C326.5,316.5 330,314.5 334,315.5 C336,316.5 337,317 338,316.5 C341,314.5 345.8,315 346.6,319 C347.2,323 346.5,327 344,328.6 C340,329.6 332,329.6 329,328.6 C327,327.5 326.5,324 326.5,321 Z" fill="#e8d040"/>
<path d="M327.1,321 C327.1,317 330.3,315.2 334,316.1 C336,317.1 337,317.6 338,317.1 C341,315.2 345.2,315.7 346,319.2 C346.5,323 345.9,326.5 343.6,328 C339.8,329 332.2,329 329.3,328 C327.5,327 327.1,324 327.1,321 Z" fill="#e00000"/>

</g></g>
<g filter="url(#soft)">
<rect x="273.7" y="342.5" width="76.80000000000001" height="69.69999999999999" fill="#262626"/>
<clipPath id="c273342"><rect x="273.7" y="342.5" width="76.80000000000001" height="69.69999999999999"/></clipPath>
<g clip-path="url(#c273342)">
<path d="M9,0 L15,0 C16.8,3 18.3,6.5 19.8,10 L23.3,11.5 L23.8,14.5 L21.8,15.2 C22.6,22 23,29.5 23,37.5 C23,44 22.1,48.5 19.3,51 L20,55.5 L16.5,56 L15,52 L13.2,52.5 L13,60 L11,60 L10.8,52.5 L9,52 L7.5,56 L4,55.5 L4.7,51 C1.9,48.5 1,44 1,37.5 C1,29.5 1.4,22 2.2,15.2 L0.2,14.5 L0.7,11.5 L4.2,10 C5.7,6.5 7.2,3 9,0 Z" transform="translate(273.5,339) scale(0.917,1.200)" fill="url(#mg)"/>
<path d="M9,0 L15,0 C16.8,3 18.3,6.5 19.8,10 L23.3,11.5 L23.8,14.5 L21.8,15.2 C22.6,22 23,29.5 23,37.5 C23,44 22.1,48.5 19.3,51 L20,55.5 L16.5,56 L15,52 L13.2,52.5 L13,60 L11,60 L10.8,52.5 L9,52 L7.5,56 L4,55.5 L4.7,51 C1.9,48.5 1,44 1,37.5 C1,29.5 1.4,22 2.2,15.2 L0.2,14.5 L0.7,11.5 L4.2,10 C5.7,6.5 7.2,3 9,0 Z" transform="translate(273.5,339) scale(0.917,1.200)" fill="#000" filter="url(#tex)" opacity="0.28"/>
<path d="M9,0 L15,0 C16.8,3 18.3,6.5 19.8,10 L23.3,11.5 L23.8,14.5 L21.8,15.2 C22.6,22 23,29.5 23,37.5 C23,44 22.1,48.5 19.3,51 L20,55.5 L16.5,56 L15,52 L13.2,52.5 L13,60 L11,60 L10.8,52.5 L9,52 L7.5,56 L4,55.5 L4.7,51 C1.9,48.5 1,44 1,37.5 C1,29.5 1.4,22 2.2,15.2 L0.2,14.5 L0.7,11.5 L4.2,10 C5.7,6.5 7.2,3 9,0 Z" transform="translate(299,340) scale(1.042,1.200)" fill="url(#mg)"/>
<path d="M9,0 L15,0 C16.8,3 18.3,6.5 19.8,10 L23.3,11.5 L23.8,14.5 L21.8,15.2 C22.6,22 23,29.5 23,37.5 C23,44 22.1,48.5 19.3,51 L20,55.5 L16.5,56 L15,52 L13.2,52.5 L13,60 L11,60 L10.8,52.5 L9,52 L7.5,56 L4,55.5 L4.7,51 C1.9,48.5 1,44 1,37.5 C1,29.5 1.4,22 2.2,15.2 L0.2,14.5 L0.7,11.5 L4.2,10 C5.7,6.5 7.2,3 9,0 Z" transform="translate(299,340) scale(1.042,1.200)" fill="#000" filter="url(#tex)" opacity="0.28"/>
<path d="M9,0 L15,0 C16.8,3 18.3,6.5 19.8,10 L23.3,11.5 L23.8,14.5 L21.8,15.2 C22.6,22 23,29.5 23,37.5 C23,44 22.1,48.5 19.3,51 L20,55.5 L16.5,56 L15,52 L13.2,52.5 L13,60 L11,60 L10.8,52.5 L9,52 L7.5,56 L4,55.5 L4.7,51 C1.9,48.5 1,44 1,37.5 C1,29.5 1.4,22 2.2,15.2 L0.2,14.5 L0.7,11.5 L4.2,10 C5.7,6.5 7.2,3 9,0 Z" transform="translate(325,340) scale(1.042,1.200)" fill="url(#mg)"/>
<path d="M9,0 L15,0 C16.8,3 18.3,6.5 19.8,10 L23.3,11.5 L23.8,14.5 L21.8,15.2 C22.6,22 23,29.5 23,37.5 C23,44 22.1,48.5 19.3,51 L20,55.5 L16.5,56 L15,52 L13.2,52.5 L13,60 L11,60 L10.8,52.5 L9,52 L7.5,56 L4,55.5 L4.7,51 C1.9,48.5 1,44 1,37.5 C1,29.5 1.4,22 2.2,15.2 L0.2,14.5 L0.7,11.5 L4.2,10 C5.7,6.5 7.2,3 9,0 Z" transform="translate(325,340) scale(1.042,1.200)" fill="#000" filter="url(#tex)" opacity="0.28"/>

<path d="M303,352 C307,349 313,350 316.5,354 C318.5,358 319,363 319,368 L303,369 C302,363 302,357 303,352 Z" fill="#a0a8d8" opacity="0.25"/>
<circle cx="306" cy="360" r="2.2" fill="#5060c8" opacity="0.45"/>
<path d="M302,368 C307,366.5 315,366.5 320,368 L321.5,374 L301,374.5 Z" fill="#4060d8"/>
<path d="M302.3,372.3 C307.5,370.3 316.5,370.3 322.1,372.3 C324.1,377.5 324.7,384.7 324.5,391.7 C324.3,398.2 321.5,404 312,405.2 C302.5,404 299.8,398.2 299.6,391.7 C299.4,384.7 300.2,377.5 302.3,372.3 Z" fill="#e8d040"/>
<path d="M303,373 C308,371 317,371 321.5,373 C323.5,378 324,385 323.8,392 C323.6,398 321,403.5 312,404.5 C303,403.5 300.4,398 300.2,392 C300,385 300.8,378 303,373 Z" fill="#e00000"/>
<ellipse cx="314" cy="373.5" rx="2.2" ry="2" fill="#e8d040"/>
<path d="M303,404 L305,411 M320,404 L322,411" stroke="#5070e0" stroke-width="1.5" fill="none"/>
<path d="M326,363 C331,361.5 343,361.5 349,363 L350,368 L348.5,373.5 L326.5,373.5 Z" fill="#4868e0"/>
<ellipse cx="330.8" cy="366.8" rx="3.3" ry="2.5" fill="#f0f0ff"/>
<ellipse cx="335.2" cy="356.5" rx="7.8" ry="7.4" fill="#e8d040"/>
<ellipse cx="335.2" cy="356.5" rx="7.2" ry="6.8" fill="#e00000"/>
<path d="M327.8,371.8 C332.5,370.3 344.5,370.3 348.7,371.8 C350.5,377.5 350.7,385.7 350.5,392.7 C350.2,399.7 346.5,405.8 338,406.6 C329.5,405.8 326,399.7 325.7,392.7 C325.4,385.7 325.9,377.5 327.8,371.8 Z" fill="#e8d040"/>
<path d="M328.5,372.5 C333,371 344,371 348,372.5 C349.8,378 350,386 349.8,393 C349.5,400 346,405.5 338,406 C330,405.5 326.6,400 326.3,393 C326,386 326.5,378 328.5,372.5 Z" fill="#e00000"/>
<path d="M329,405 L331,411 M346,405 L348,410" stroke="#5070e0" stroke-width="1.5" fill="none"/>

</g></g>
<rect x="250.35" y="289.1" width="5.7" height="34.3" fill="#000"/>
<rect x="241.2" y="296.9" width="24" height="5.7" fill="#000"/>
<rect x="127.25" y="358.2" width="5.7" height="34.3" fill="#000"/>
<rect x="118.1" y="366.3" width="24" height="5.7" fill="#000"/>
<rect x="155.3" y="358.2" width="5.7" height="34.3" fill="#000"/>
<rect x="146.15" y="366.3" width="24" height="5.7" fill="#000"/>
<rect x="219.3" y="358.0" width="5.7" height="34.3" fill="#000"/>
<rect x="210.15" y="365.8" width="24" height="5.7" fill="#000"/>
<rect x="250.4" y="358.0" width="5.7" height="34.3" fill="#000"/>
<rect x="241.25" y="365.8" width="24" height="5.7" fill="#000"/>
<rect x="371.7" y="211" width="13.8" height="179" fill="url(#cb)"/>
<g stroke="#111" stroke-width="1.3" fill="none">
<path d="M385.6,211 V390.6 M371,390.3 H394 M385.6,212.7 H393.6"/>
<path d="M385.6,221 H389.7"/>
<path d="M385.6,230 H389.7"/>
<path d="M385.6,240.6 H389.7"/>
<path d="M385.6,251.9 H389.7"/>
<path d="M385.6,265.9 H389.7"/>
<path d="M385.6,283.5 H389.7"/>
<path d="M385.6,305.4 H389.7"/>
<path d="M385.6,336.5 H389.7"/>
<path d="M385.6,345 H389.7"/>
<path d="M385.6,353 H389.7"/>
<path d="M385.6,364 H389.7"/>
<path d="M385.6,375.9 H389.7"/>
</g>
<text x="0" y="0" font-size="12.8" transform="translate(395.6,217.3) scale(0.79,1)">1000</text>
<text x="0" y="0" font-size="12.8" transform="translate(395.6,394.8) scale(0.79,1)">100</text>
<text x="0" y="0" font-size="9.6" transform="translate(390.7,244.1) scale(0.78,1)">7</text>
<text x="0" y="0" font-size="9.6" transform="translate(390.7,255.4) scale(0.78,1)">6</text>
<text x="0" y="0" font-size="9.6" transform="translate(390.7,269.4) scale(0.78,1)">5</text>
<text x="0" y="0" font-size="9.6" transform="translate(390.7,287.0) scale(0.78,1)">4</text>
<text x="0" y="0" font-size="9.6" transform="translate(390.7,308.9) scale(0.78,1)">3</text>
<text x="0" y="0" font-size="9.6" transform="translate(390.7,340.0) scale(0.78,1)">2</text>
</svg></body></html>
